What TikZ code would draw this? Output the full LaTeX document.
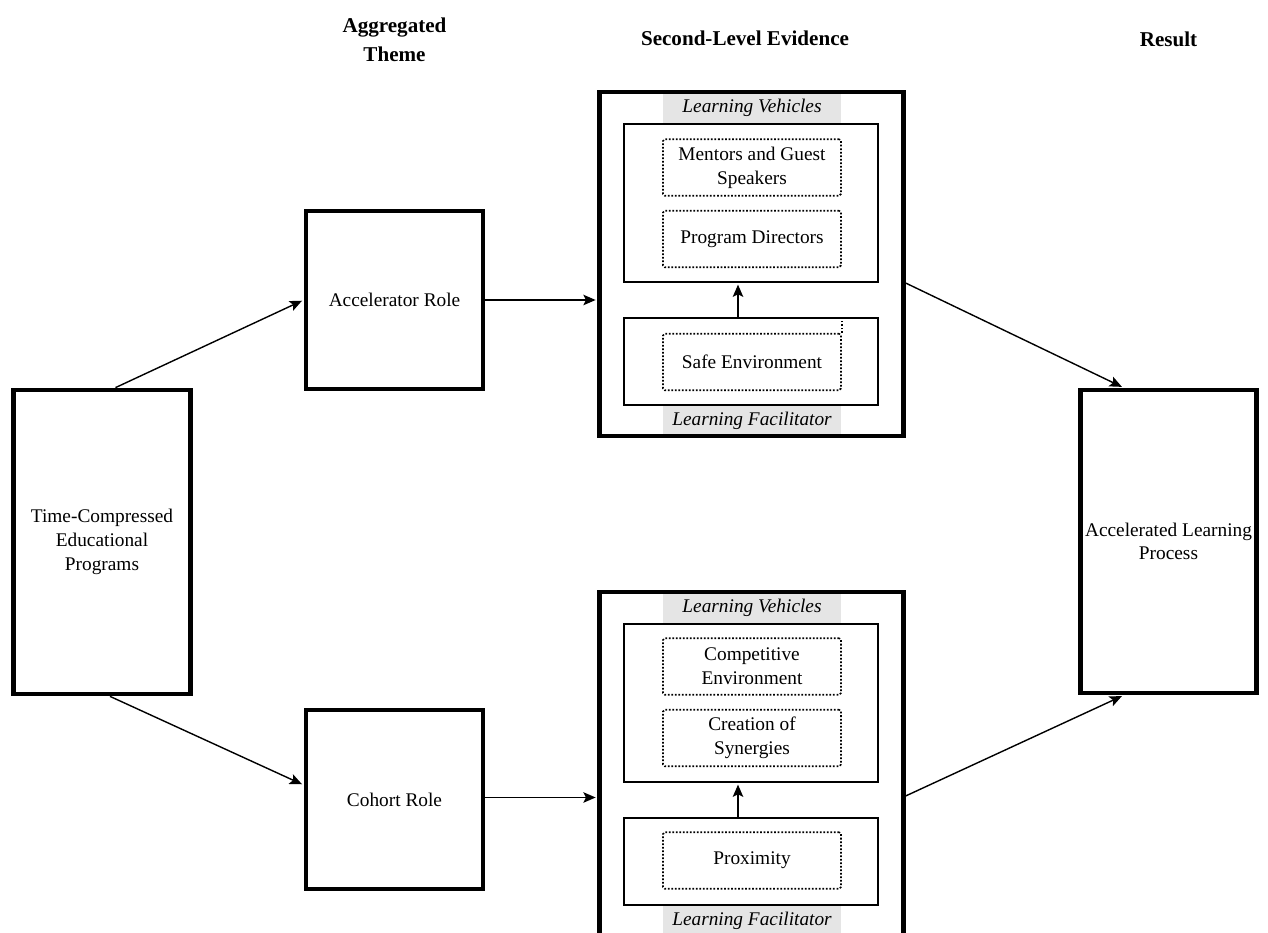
\documentclass[tikz,border=0pt]{standalone}
\usepackage{fontspec}
\setmainfont{Liberation Serif}
\usepackage{tikz}
\usetikzlibrary{arrows.meta}

\begin{document}
\begin{tikzpicture} [> = {Stealth[length=7pt, width=6pt, inset=1.5pt]},  shorten > = 1pt,   auto,   font = \fontsize{11}{13.5}\selectfont]
            % Estilos
            \tikzstyle{caixa}=[rectangle, draw, line width=2.7pt, align=center, inner sep=0pt]
            \tikzstyle{moldura}=[rectangle, draw, line width=2.7pt, minimum width=6.07cm, minimum height=6.88cm]
            \tikzstyle{interna}=[rectangle, draw, line width=1pt, minimum width=5.08cm]
            \tikzstyle{pontilhada}=[rectangle, draw, densely dotted, line width=1pt, rounded corners=1pt, minimum width=3.56cm, minimum height=1.13cm, align=center, inner sep=0pt]
            \tikzstyle{faixa}=[rectangle, fill=black!10, minimum width=3.56cm, minimum height=0.63cm, inner sep=0pt, font=\fontsize{11}{13.5}\selectfont\itshape]
            \tikzstyle{titulo}=[align=center, font=\fontsize{12}{16.5}\selectfont\bfseries]

            \useasboundingbox (0,0) rectangle (25.36,-18.66);

            % Títulos
            \node[titulo] (tema) at (7.89,-0.79) {Aggregated\\Theme};
            \node[titulo] (evid) at (14.90,-0.76) {Second-Level Evidence};
            \node[titulo] (result) at (23.37,-0.78) {Result};

            % Caixas
            \node[caixa, minimum width=3.53cm, minimum height=6.08cm] (prog) at (2.04,-10.84) {Time-Compressed\\Educational\\Programs};
            \node[caixa, minimum width=3.54cm, minimum height=3.56cm] (acel) at (7.89,-6.00) {Accelerator Role};
            \node[caixa, minimum width=3.54cm, minimum height=3.58cm] (coorte) at (7.89,-15.99) {Cohort Role};
            \node[caixa, minimum width=3.51cm, minimum height=6.06cm] (res) at (23.37,-10.83) {Accelerated Learning\\Process};

            % Evidências (acelerador)
            \node[faixa] (vA) at (15.04,-2.16) {Learning Vehicles};
            \node[faixa] (fA) at (15.04,-8.41) {Learning Facilitator};
            \node[moldura] (evA) at (15.03,-5.28) {};
            \node[interna, minimum height=3.16cm] (veicA) at (15.02,-4.06) {};
            \node[interna, minimum height=1.74cm] (facA) at (15.02,-7.23) {};
            \node[pontilhada] (menA) at (15.04,-3.35) {Mentors and Guest\\Speakers};
            \node[pontilhada] (dirA) at (15.04,-4.78) {Program Directors};
            \node[pontilhada] (segA) at (15.04,-7.24) {Safe Environment};
            \draw[densely dotted, line width=1pt] (segA.north east) -- (segA.north east |- facA.north);

            % Evidências (coorte)
            \node[faixa] (vB) at (15.04,-12.16) {Learning Vehicles};
            \node[faixa] (fB) at (15.04,-18.41) {Learning Facilitator};
            \node[moldura] (evB) at (15.03,-15.28) {};
            \node[interna, minimum height=3.16cm] (veicB) at (15.02,-14.06) {};
            \node[interna, minimum height=1.74cm] (facB) at (15.02,-17.23) {};
            \node[pontilhada] (compB) at (15.04,-13.33) {Competitive\\Environment};
            \node[pontilhada] (sinB) at (15.04,-14.76) {Creation of\\Synergies};
            \node[pontilhada] (proxB) at (15.04,-17.21) {Proximity};

            % Setas
            \draw[->,thick] ([xshift=0.27cm]prog.north) -> (acel.west);
            \draw[->,thick] ([xshift=0.16cm]prog.south) -> ([yshift=0.29cm]coorte.west);
            \draw[->,thick] (acel.east) -> (acel.east -| evA.west);
            \draw[->,thick] ([yshift=0.04cm]coorte.east) -> ([yshift=0.04cm]coorte.east -| evB.west);
            \draw[->,thick] ([xshift=-0.26cm]facA.north) -> ([xshift=-0.26cm]veicA.south);
            \draw[->,thick] ([xshift=-0.26cm]facB.north) -> ([xshift=-0.26cm]veicB.south);
            \draw[->,thick] ([yshift=-0.38cm]evA.east) -> ([xshift=-0.9cm]res.north);
            \draw[->,thick] ([yshift=-0.64cm]evB.east) -> ([xshift=-0.9cm]res.south);
        \end{tikzpicture}
\end{document}
